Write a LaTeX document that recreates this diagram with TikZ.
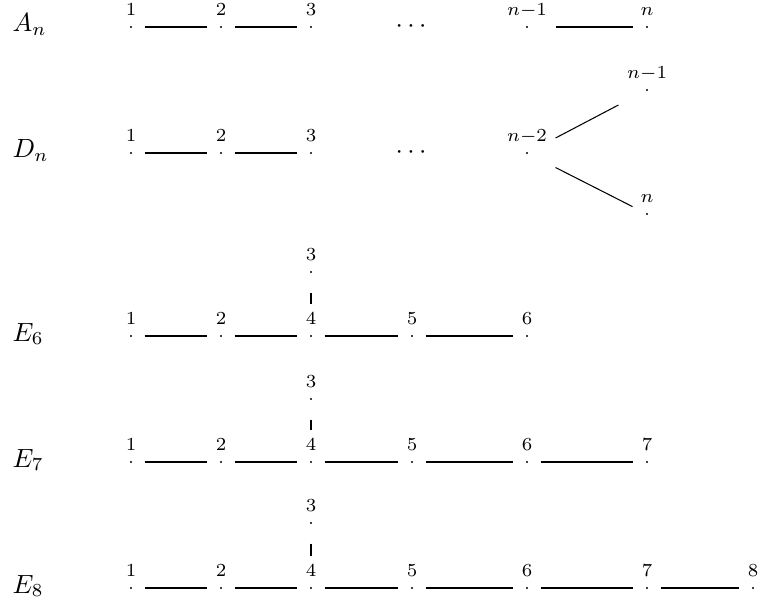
\documentclass[tikz,border=0pt]{standalone}
\usepackage{tikz}

\begin{document}
\begin{tikzpicture}[
    x=0.38pt, y=-0.38pt,
    label distance=-3.6pt,
    vx/.style={rectangle, inner sep=0pt, minimum width=9.9pt,
               minimum height=15.2pt,
               path picture={\fill (path picture bounding box.center) circle (0.45pt);}},
    vxwide/.style={vx, minimum width=21.3pt},
    vxn/.style={vx, minimum width=10.6pt},
    lbl/.style={font=\scriptsize, inner sep=0pt, anchor=base},
    rowlbl/.style={anchor=base west, inner sep=0pt},
    dotsn/.style={inner sep=0pt},
    bond/.style={line width=1pt},
    branch/.style={line width=0.4pt},
]
\useasboundingbox (0,0) rectangle (760,606);

% ── A_n ──────────────────────────────────────────────────────────────────
\node[rowlbl] (An) at (12,32) {$A_n$};
\foreach \i/\xpos in {1/131, 2/221, 3/311} {
    \node[vx, label={[lbl]above:\i}] (a\i) at (\xpos, 27) {};
}
\node[dotsn] (adots) at (411,27) {$\cdots$};
\node[vxwide, label={[lbl]above:$n{-}1$}] (an1) at (527,27) {};
\node[vxn, label={[lbl]above:$n$}] (an) at (647,27) {};
\draw[bond] (a1) -- (a2);
\draw[bond] (a2) -- (a3);
\draw[bond] (an1) -- (an);

% ── D_n ──────────────────────────────────────────────────────────────────
\node[rowlbl] (Dn) at (12,158) {$D_n$};
\foreach \i/\xpos in {1/131, 2/221, 3/311} {
    \node[vx, label={[lbl]above:\i}] (d\i) at (\xpos, 153) {};
}
\node[dotsn] (ddots) at (411,153) {$\cdots$};
\node[vxwide, label={[lbl]above:$n{-}2$}] (dn2) at (527,153) {};
\node[vxwide, label={[lbl]above:$n{-}1$}] (dn1) at (647,90) {};
\node[vxn, label={[lbl]above:$n$}] (dn) at (647,214) {};
\draw[bond] (d1) -- (d2);
\draw[bond] (d2) -- (d3);
\draw[branch] (dn2) -- (dn1);
\draw[branch] (dn2) -- (dn);

% ── E_6 ──────────────────────────────────────────────────────────────────
\node[rowlbl] (E6) at (12,341) {$E_6$};
\foreach \i/\xpos in {1/131, 2/221, 4/311, 5/412, 6/527} {
    \node[vx, label={[lbl]above:\i}] (e6v\i) at (\xpos, 336) {};
}
\node[vx, label={[lbl]above:3}] (e6v3) at (311,272) {};
\foreach \a/\b in {1/2, 2/4, 4/5, 5/6} { \draw[bond] (e6v\a) -- (e6v\b); }
\draw[bond, shorten >=4.2pt] (e6v3) -- (e6v4);

% ── E_7 ──────────────────────────────────────────────────────────────────
\node[rowlbl] (E7) at (12,467) {$E_7$};
\foreach \i/\xpos in {1/131, 2/221, 4/311, 5/412, 6/527, 7/647} {
    \node[vx, label={[lbl]above:\i}] (e7v\i) at (\xpos, 462) {};
}
\node[vx, label={[lbl]above:3}] (e7v3) at (311,399) {};
\foreach \a/\b in {1/2, 2/4, 4/5, 5/6, 6/7} { \draw[bond] (e7v\a) -- (e7v\b); }
\draw[bond, shorten >=4.2pt] (e7v3) -- (e7v4);

% ── E_8 ──────────────────────────────────────────────────────────────────
\node[rowlbl] (E8) at (12,593) {$E_8$};
\foreach \i/\xpos in {1/131, 2/221, 4/311, 5/412, 6/527, 7/647, 8/753} {
    \node[vx, label={[lbl]above:\i}] (e8v\i) at (\xpos, 588) {};
}
\node[vx, label={[lbl]above:3}] (e8v3) at (311,523) {};
\foreach \a/\b in {1/2, 2/4, 4/5, 5/6, 6/7, 7/8} { \draw[bond] (e8v\a) -- (e8v\b); }
\draw[bond, shorten >=4.2pt] (e8v3) -- (e8v4);

\end{tikzpicture}
\end{document}
